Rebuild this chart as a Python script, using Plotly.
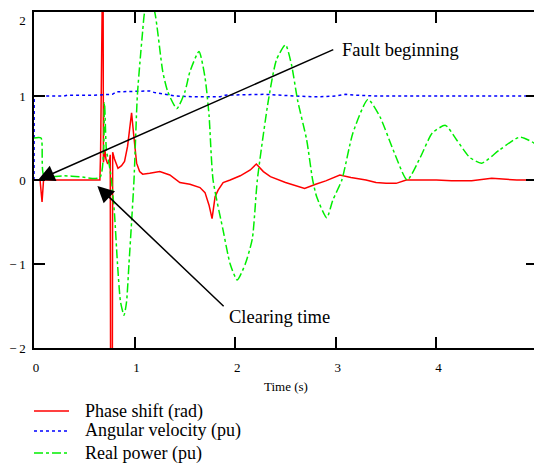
import plotly.graph_objects as go

# ---- data ----
t_phase = [0, 0.03, 0.06, 0.08, 0.095, 0.12, 0.655, 0.662, 0.668, 0.686, 0.69, 0.70, 0.705,
           0.715, 0.73, 0.75, 0.758, 0.762, 0.778, 0.782, 0.80, 0.835, 0.87, 0.90, 0.93,
           0.95, 0.97, 0.99, 1.02, 1.05, 1.08, 1.15, 1.25, 1.35, 1.45, 1.55, 1.65, 1.70,
           1.74, 1.77, 1.80, 1.83, 1.88, 1.95, 2.05, 2.15, 2.21, 2.28, 2.35, 2.50, 2.60,
           2.69, 2.80, 2.90, 3.04, 3.15, 3.30, 3.40, 3.50, 3.60, 3.70, 4.00, 4.15, 4.35,
           4.55, 4.80, 5.00]
phase = [0, 0, 0, -0.26, 0, 0, 0, 0.33, 3.0, 3.0, 0.21, 0.30, 0.36,
         0.25, 0.20, 0.22, 0.30, -3.0, -3.0, 0.33, 0.25, 0.14, 0.17, 0.22, 0.40,
         0.60, 0.80, 0.55, 0.20, 0.10, 0.07, 0.08, 0.10, 0.06, -0.03, -0.05, -0.09, -0.15,
         -0.30, -0.46, -0.20, -0.12, -0.03, 0.0, 0.05, 0.12, 0.19, 0.10, 0.04, -0.03, -0.07,
         -0.10, -0.05, -0.01, 0.06, 0.03, 0.0, -0.03, -0.04, -0.04, 0.0, 0.0, -0.01, -0.01,
         0.02, 0.0, 0.0]

t_speed = [0, 0.002, 0.30, 0.33, 0.60, 0.78, 0.82, 1.00, 1.15, 1.20, 1.30, 1.40, 1.60,
           1.85, 1.90, 2.30, 2.60, 2.80, 3.00, 3.10, 3.20, 3.40, 5.00]
speed = [0, 1.0, 1.0, 1.01, 1.01, 1.02, 1.05, 1.06, 1.06, 1.04, 1.02, 1.0, 0.99,
         0.99, 1.01, 1.02, 1.0, 0.99, 1.0, 1.02, 1.01, 1.0, 1.0]

t_power = [0, 0.07, 0.10, 0.30, 0.45, 0.655, 0.70, 0.72, 0.745, 0.77, 0.80, 0.83, 0.86,
           0.895, 0.92, 0.944, 0.97, 0.994, 1.027, 1.06, 1.08, 1.10, 1.15, 1.20, 1.28,
           1.33, 1.42, 1.50, 1.55, 1.64, 1.70, 1.74, 1.78, 1.88, 1.95, 2.02, 2.10, 2.17,
           2.22, 2.33, 2.41, 2.50, 2.56, 2.62, 2.71, 2.77, 2.81, 2.91, 2.97, 3.06, 3.17,
           3.32, 3.44, 3.57, 3.71, 3.84, 3.96, 4.09, 4.20, 4.33, 4.45, 4.63, 4.83, 5.00]
power = [0.5, 0.5, 0.05, 0.05, 0.04, 0.03, 0.92, 0.35, 0.20, 0.0, -0.4, -1.0, -1.45,
         -1.61, -1.45, -1.0, -0.5, 0.0, 1.0, 1.5, 1.77, 2.0, 2.15, 2.0, 1.29,
         1.05, 0.85, 1.05, 1.29, 1.53, 1.22, 0.77, 0.0, -0.6, -1.0, -1.19, -1.0, -0.7,
         0.0, 0.95, 1.43, 1.61, 1.37, 0.95, 0.48, 0.0, -0.2, -0.45, -0.24, 0.0, 0.56,
         0.96, 0.75, 0.36, 0.0, 0.27, 0.56, 0.65, 0.48, 0.27, 0.20, 0.36, 0.51, 0.42]

series_names = ["Phase shift (rad)", "Angular velocity (pu)", "Real power (pu)"]
series_colors = ["#ff0000", "#0000ff", "#00ee00"]
series_dash = ["solid", "dot", "dashdot"]
series_shape = ["linear", "linear", "spline"]

x_ticks = [0, 1, 2, 3, 4, 5]
y_ticks = [-2, -1, 0, 1, 2]
# the top label sits a little below its tick in the reference
y_tick_text = ["\u2212\u20092", "\u2212\u20091", "0", "1", "<br>2"]

FONT = "Liberation Serif, Times New Roman, serif"

fig = go.Figure()
for tx, ty, name, col, dash, shp in zip([t_phase, t_speed, t_power], [phase, speed, power],
                                        series_names, series_colors, series_dash, series_shape):
    fig.add_trace(go.Scatter(x=tx, y=ty, mode="lines", name=name,
                             line=dict(color=col, width=1.5, dash=dash, shape=shp,
                                       smoothing=0.6 if shp == "spline" else None),
                             showlegend=False))

axis_common = dict(showline=True, linecolor="black", linewidth=1.5, mirror="allticks",
                   ticks="inside", ticklen=11, tickwidth=1.5, tickcolor="black",
                   showgrid=False, zeroline=False, automargin=False,
                   ticklabeloverflow="allow",
                   tickfont=dict(family=FONT, size=13, color="black"))

fig.update_xaxes(range=[0, 5], tickvals=x_ticks, ticklabelshift=2, ticklabelstandoff=7,
                 **axis_common)
fig.update_yaxes(range=[-2, 2], tickvals=y_ticks, ticktext=y_tick_text,
                 ticklabelstandoff=4, **axis_common)

annotations = [
    dict(x=0.04, y=0.0, ax=2.99, ay=1.56, xref="x", yref="y", axref="x", ayref="y",
         text="", showarrow=True, arrowhead=2, arrowsize=2.2, arrowwidth=1.5, arrowcolor="black"),
    dict(x=0.63, y=-0.07, ax=1.90, ay=-1.52, xref="x", yref="y", axref="x", ayref="y",
         text="", showarrow=True, arrowhead=2, arrowsize=2.2, arrowwidth=1.5, arrowcolor="black"),
    dict(x=3.04, y=1.55, xref="x", yref="y", text="Fault beginning", showarrow=False,
         xanchor="left", yanchor="middle", font=dict(family=FONT, size=18.5, color="black")),
    dict(x=1.92, y=-1.63, xref="x", yref="y", text="Clearing time", showarrow=False,
         xanchor="left", yanchor="middle", font=dict(family=FONT, size=18.5, color="black")),
    dict(x=0.501, y=-0.116, xref="paper", yref="paper", text="Time (s)", showarrow=False,
         xanchor="center", yanchor="middle", font=dict(family=FONT, size=13, color="black")),
]

# legend (drawn below the plot)
leg_y = [-0.1875, -0.247, -0.3125]
shapes = []
for yy, name, col, dash in zip(leg_y, series_names, series_colors, series_dash):
    shapes.append(dict(type="line", xref="paper", yref="paper", x0=0.0, x1=0.0696,
                       y0=yy, y1=yy, line=dict(color=col, width=1.5, dash=dash)))
    annotations.append(dict(x=0.0974, y=yy, xref="paper", yref="paper", text=name,
                            showarrow=False, xanchor="left", yanchor="middle",
                            font=dict(family=FONT, size=18, color="black")))

# page body has an 8px margin, so the figure is placed at (8, 8)
fig.update_layout(width=534, height=458, margin=dict(l=26, r=5, t=4, b=118),
                  paper_bgcolor="white", plot_bgcolor="white",
                  annotations=annotations, shapes=shapes, showlegend=False)

fig.write_html("out.html")
